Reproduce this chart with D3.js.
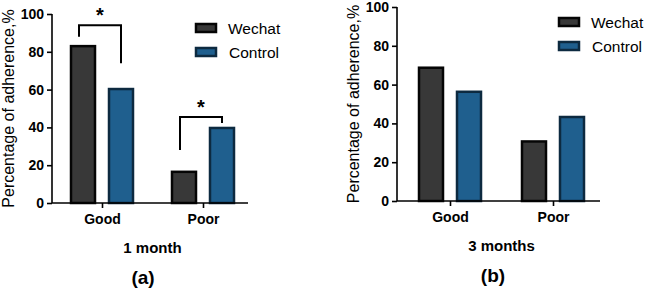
<!DOCTYPE html>
<html>
<head>
<meta charset="utf-8">
<script src="https://cdn.jsdelivr.net/npm/d3@7"></script>
<style>
  body { margin: 0; background: #fff; }
  svg { display: block; font-family: "Liberation Sans", Arial, sans-serif; }
</style>
</head>
<body>
<svg id="chart" width="650" height="292"></svg>
<script>
// ---- data ----
const groups = ["Good", "Poor"];
const seriesNames = ["Wechat", "Control"];
const month1 = { Wechat: [83, 16.5], Control: [60.3, 39.7] };
const month3 = { Wechat: [68.7, 30.7], Control: [56.3, 43.3] };
const yTicks = [0, 20, 40, 60, 80, 100];
// significance brackets (panel a): group, bracket level, left leg end, right leg end
const sigBrackets = [
    { group: "Good", top: 94, left: 88, right: 74 },
    { group: "Poor", top: 45.5, left: 28, right: 42.3 }
];

const fills = { Wechat: "#383838", Control: "#1f5f8e" };
const strokes = { Wechat: "#050505", Control: "#0d2a40" };

const svg = d3.select("#chart");

function drawPanel(cfg) {
    const g = svg.append("g");

    const y = d3.scaleLinear().domain([0, 100]).range([cfg.y0, cfg.y1]);
    const x = d3.scalePoint().domain(groups).range([cfg.xa, cfg.xb]);

    // bars
    const barW = 24, off = 19;
    groups.forEach((grp, i) => {
        seriesNames.forEach((s, j) => {
            const v = cfg.data[s][i];
            const cx = x(grp) + (j === 0 ? -off : off);
            g.append("rect")
                .attr("x", cx - barW / 2)
                .attr("y", y(v))
                .attr("width", barW)
                .attr("height", y(0) - y(v))
                .attr("fill", fills[s])
                .attr("stroke", strokes[s])
                .attr("stroke-width", 2.5);
        });
    });

    // y axis
    const yAxis = g.append("g")
        .attr("transform", `translate(${cfg.ax},0)`)
        .call(d3.axisLeft(y).tickValues(yTicks).tickSize(5).tickPadding(3));
    yAxis.selectAll("path, line").attr("stroke", "#000").attr("stroke-width", 1.6);
    yAxis.select(".domain").attr("d", `M0,${cfg.y1}V${cfg.y0}`);
    yAxis.selectAll("text")
        .attr("fill", "#000")
        .style("font-size", "14px")
        .style("font-weight", "bold");

    // x axis
    const xAxis = g.append("g")
        .attr("transform", `translate(0,${cfg.y0})`)
        .call(d3.axisBottom(x).tickSize(5).tickPadding(6));
    xAxis.selectAll("path, line").attr("stroke", "#000").attr("stroke-width", 1.6);
    xAxis.select(".domain").attr("d", `M${cfg.ax},0H${cfg.axEnd}`);
    xAxis.selectAll("text")
        .attr("fill", "#000")
        .style("font-size", "14px")
        .style("font-weight", "bold");

    // y title
    g.append("text")
        .attr("transform", `translate(${cfg.ax - 38},${(cfg.y0 + cfg.y1) / 2}) rotate(-90)`)
        .attr("text-anchor", "middle")
        .style("font-size", "16px")
        .text("Percentage of adherence,%");

    // x title
    g.append("text")
        .attr("x", (cfg.xa + cfg.xb) / 2)
        .attr("y", cfg.y0 + 50)
        .attr("text-anchor", "middle")
        .style("font-size", "15px")
        .style("font-weight", "bold")
        .text(cfg.xTitle);

    // panel label
    g.append("text")
        .attr("x", cfg.labelX)
        .attr("y", cfg.y0 + 81)
        .attr("text-anchor", "middle")
        .style("font-size", "19px")
        .style("font-weight", "bold")
        .text(cfg.label);

    // legend
    seriesNames.forEach((s, j) => {
        const ly = cfg.legY + j * 24;
        g.append("rect")
            .attr("x", cfg.legX)
            .attr("y", ly)
            .attr("width", 20)
            .attr("height", 8)
            .attr("fill", fills[s])
            .attr("stroke", strokes[s])
            .attr("stroke-width", 2.5);
        g.append("text")
            .attr("x", cfg.legX + 32 + (j === 1 ? 1 : 0))
            .attr("y", ly + 10)
            .style("font-size", "15.5px")
            .text(s);
    });

    // significance
    if (cfg.sig) {
        cfg.sig.forEach(b => {
            const lx = x(b.group) - off - 4, rx = x(b.group) + off;
            g.append("path")
                .attr("d", `M${lx},${y(b.left)}V${y(b.top)}H${rx}V${y(b.right)}`)
                .attr("fill", "none")
                .attr("stroke", "#000")
                .attr("stroke-width", 2);
            g.append("text")
                .attr("x", (lx + rx) / 2)
                .attr("y", y(b.top) - 3)
                .attr("text-anchor", "middle")
                .style("font-size", "20px")
                .style("font-weight", "bold")
                .text("*");
        });
    }
}

drawPanel({
    data: month1, ax: 52, axEnd: 248, xa: 102, xb: 203,
    y0: 203, y1: 14, xTitle: "1 month", label: "(a)", labelX: 143,
    legX: 196, legY: 24, sig: sigBrackets
});

drawPanel({
    data: month3, ax: 397, axEnd: 600, xa: 450, xb: 553,
    y0: 201, y1: 7, xTitle: "3 months", label: "(b)", labelX: 493,
    legX: 559, legY: 18, sig: null
});
</script>
</body>
</html>
